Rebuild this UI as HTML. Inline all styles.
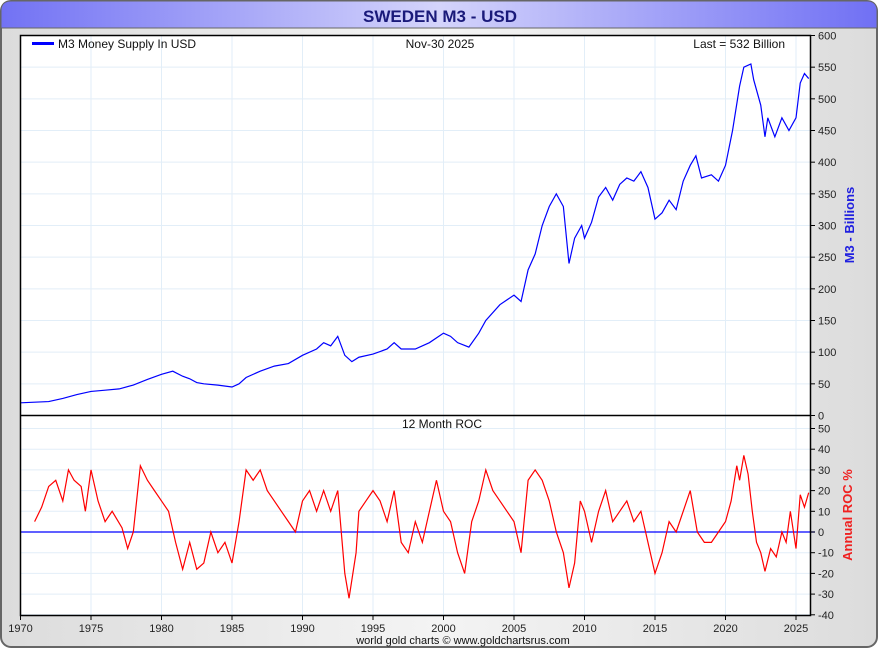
<!DOCTYPE html>
<html><head><meta charset="utf-8"><style>
body{margin:0;width:880px;height:650px;overflow:hidden;background:#fff;font-family:"Liberation Sans",sans-serif}
</style></head><body>
<svg id="c" width="880" height="650" xmlns="http://www.w3.org/2000/svg">
<defs>
<linearGradient id="tb" x1="0" x2="1" y1="0" y2="0"><stop offset="0" stop-color="#7272f4"/><stop offset="0.5" stop-color="#d4d4fb"/><stop offset="1" stop-color="#7070f4"/></linearGradient>
<linearGradient id="bg" x1="0" x2="1" y1="0" y2="0"><stop offset="0" stop-color="#dcdcdc"/><stop offset="0.5" stop-color="#f4f4f4"/><stop offset="1" stop-color="#dcdcdc"/></linearGradient>
</defs>
<rect x="1" y="1" width="876" height="646" rx="10" fill="url(#bg)" stroke="#666" stroke-width="2"/>
<path d="M1,28 L1,11 Q1,1 11,1 L867,1 Q877,1 877,11 L877,28 Z" fill="url(#tb)" stroke="#666"/>
<text x="440" y="22" text-anchor="middle" font-size="17" font-weight="bold" fill="#1a1a7a">SWEDEN M3 - USD</text>
<rect x="20.5" y="35.5" width="790" height="580" fill="#fff"/>
<g id="grid"></g>
<g id="series"></g>
<rect x="20.5" y="35.5" width="790" height="580" fill="none" stroke="#000" stroke-width="1.5"/>
<line x1="20.5" x2="810.5" y1="415.5" y2="415.5" stroke="#000" stroke-width="1.5"/>
<g id="axes" font-size="11" fill="#222"></g>
<line x1="32" x2="54" y1="43.5" y2="43.5" stroke="#00f" stroke-width="3"/>
<text x="58" y="48" font-size="12" fill="#111">M3 Money Supply In USD</text>
<text x="440" y="48" font-size="12" text-anchor="middle" fill="#111">Nov-30  2025</text>
<text x="785" y="48" font-size="12" text-anchor="end" fill="#111">Last = 532 Billion</text>
<text x="442" y="428" font-size="12" text-anchor="middle" fill="#111">12 Month ROC</text>
<text transform="translate(854,225) rotate(-90)" font-size="13" font-weight="bold" text-anchor="middle" fill="#2020e0">M3 - Billions</text>
<text transform="translate(852,515) rotate(-90)" font-size="13" font-weight="bold" text-anchor="middle" fill="#f02020">Annual ROC %</text>
<text x="463" y="644" font-size="11" text-anchor="middle" fill="#111">world gold charts © www.goldchartsrus.com</text>
</svg>
<script>
const m3Years=[1970,1972,1973,1974,1975,1976,1977,1978,1979,1980,1980.8,1981.5,1982,1982.5,1983,1984,1985,1985.5,1986,1987,1988,1989,1990,1991,1991.5,1992,1992.5,1993,1993.5,1994,1995,1996,1996.5,1997,1998,1999,2000,2000.5,2001,2001.8,2002.5,2003,2004,2005,2005.5,2006,2006.5,2007,2007.5,2008,2008.5,2008.9,2009.3,2009.8,2010,2010.5,2011,2011.5,2012,2012.5,2013,2013.5,2014,2014.5,2015,2015.5,2016,2016.5,2017,2017.5,2017.9,2018.3,2019,2019.5,2020,2020.5,2021,2021.3,2021.8,2022,2022.5,2022.8,2023,2023.5,2024,2024.5,2025,2025.3,2025.6,2025.9];
const m3Values=[20,22,27,33,38,40,42,48,57,65,70,62,58,52,50,48,45,50,60,70,78,82,95,105,115,110,125,95,85,92,97,105,115,105,105,115,130,125,115,108,130,150,175,190,180,230,255,300,330,350,330,240,280,300,280,305,345,360,340,365,375,370,385,360,310,320,340,325,370,395,410,375,380,370,395,450,520,550,555,530,490,440,470,440,470,450,470,525,540,532];
const rocYears=[1971,1971.5,1972,1972.5,1973,1973.4,1973.8,1974.3,1974.6,1975,1975.5,1976,1976.5,1977.2,1977.6,1978,1978.5,1979,1979.5,1980,1980.5,1981,1981.5,1982,1982.5,1983,1983.5,1984,1984.5,1985,1985.5,1986,1986.5,1987,1987.5,1988,1988.5,1989,1989.5,1990,1990.5,1991,1991.5,1992,1992.5,1993,1993.3,1993.8,1994,1994.5,1995,1995.5,1996,1996.5,1997,1997.5,1998,1998.5,1999,1999.5,2000,2000.5,2001,2001.5,2002,2002.5,2003,2003.5,2004,2004.5,2005,2005.5,2006,2006.5,2007,2007.5,2008,2008.5,2008.9,2009.3,2009.7,2010,2010.5,2011,2011.5,2012,2012.5,2013,2013.5,2014,2014.5,2015,2015.5,2016,2016.5,2017,2017.5,2018,2018.5,2019,2019.5,2020,2020.4,2020.8,2021,2021.3,2021.6,2021.9,2022.2,2022.5,2022.8,2023.2,2023.6,2024,2024.3,2024.6,2025,2025.3,2025.6,2025.9];
const rocValues=[5,12,22,25,15,30,25,22,10,30,15,5,10,2,-8,0,32,25,20,15,10,-5,-18,-5,-18,-15,0,-10,-5,-15,5,30,25,30,20,15,10,5,0,15,20,10,20,10,20,-20,-32,-10,10,15,20,15,5,20,-5,-10,5,-5,10,25,10,5,-10,-20,5,15,30,20,15,10,5,-10,25,30,25,15,0,-10,-27,-15,15,10,-5,10,20,5,10,15,5,10,-5,-20,-10,5,0,10,20,0,-5,-5,0,5,15,32,25,37,28,10,-5,-10,-19,-8,-12,0,-5,10,-8,18,12,19];
const xTicks=[1970,1975,1980,1985,1990,1995,2000,2005,2010,2015,2020,2025];
const m3Ticks=[0,50,100,150,200,250,300,350,400,450,500,550,600];
const rocTicks=[-40,-30,-20,-10,0,10,20,30,40,50];
const NS='http://www.w3.org/2000/svg';
const X=y=>20.5+(y-1970)*14.1;
const Y1=v=>415.5-v*380/600;
const Y2=v=>532-v*2.07;
function mk(t,a,p){const e=document.createElementNS(NS,t);for(const k in a)e.setAttribute(k,a[k]);p.appendChild(e);return e;}
const grid=document.getElementById('grid'),ser=document.getElementById('series'),ax=document.getElementById('axes');
xTicks.forEach(t=>{
 const l=mk('line',{x1:X(t),x2:X(t),y1:35,y2:615,stroke:'#e2eef8'},grid);
 
 
 mk('line',{x1:X(t),x2:X(t),y1:615,y2:620,stroke:'#000'},ax);
 const tx=mk('text',{x:X(t),y:632,'text-anchor':'middle'},ax);tx.textContent=t;
 
 
});
m3Ticks.forEach(t=>{
 const l=mk('line',{x1:20,x2:810,y1:Y1(t),y2:Y1(t),stroke:'#e2eef8'},grid);
 
 
 mk('line',{x1:810,x2:815,y1:Y1(t),y2:Y1(t),stroke:'#000'},ax);
 const tx=mk('text',{x:818,y:Y1(t)+4},ax);tx.textContent=t;
 
 
});
rocTicks.forEach(t=>{
 const y=Y2(t);if(y<417)return;
 const l=mk('line',{x1:20,x2:810,y1:y,y2:y,stroke:'#e2eef8'},grid);
 
 
 mk('line',{x1:810,x2:815,y1:y,y2:y,stroke:'#000'},ax);
 const tx=mk('text',{x:818,y:y+4},ax);tx.textContent=t;
 
 
});
const zl=mk('line',{x1:20,x2:815,y1:Y2(0),y2:Y2(0),stroke:'#0000ff','stroke-width':1.3},ser);


const p1=mk('polyline',{points:m3Years.map((y,i)=>X(y)+','+Y1(m3Values[i])).join(' '),fill:'none',stroke:'#0000ff','stroke-width':1.2},ser);


const p2=mk('polyline',{points:rocYears.map((y,i)=>X(y)+','+Y2(rocValues[i])).join(' '),fill:'none',stroke:'#ff0000','stroke-width':1.2},ser);


</script>
</body></html>
